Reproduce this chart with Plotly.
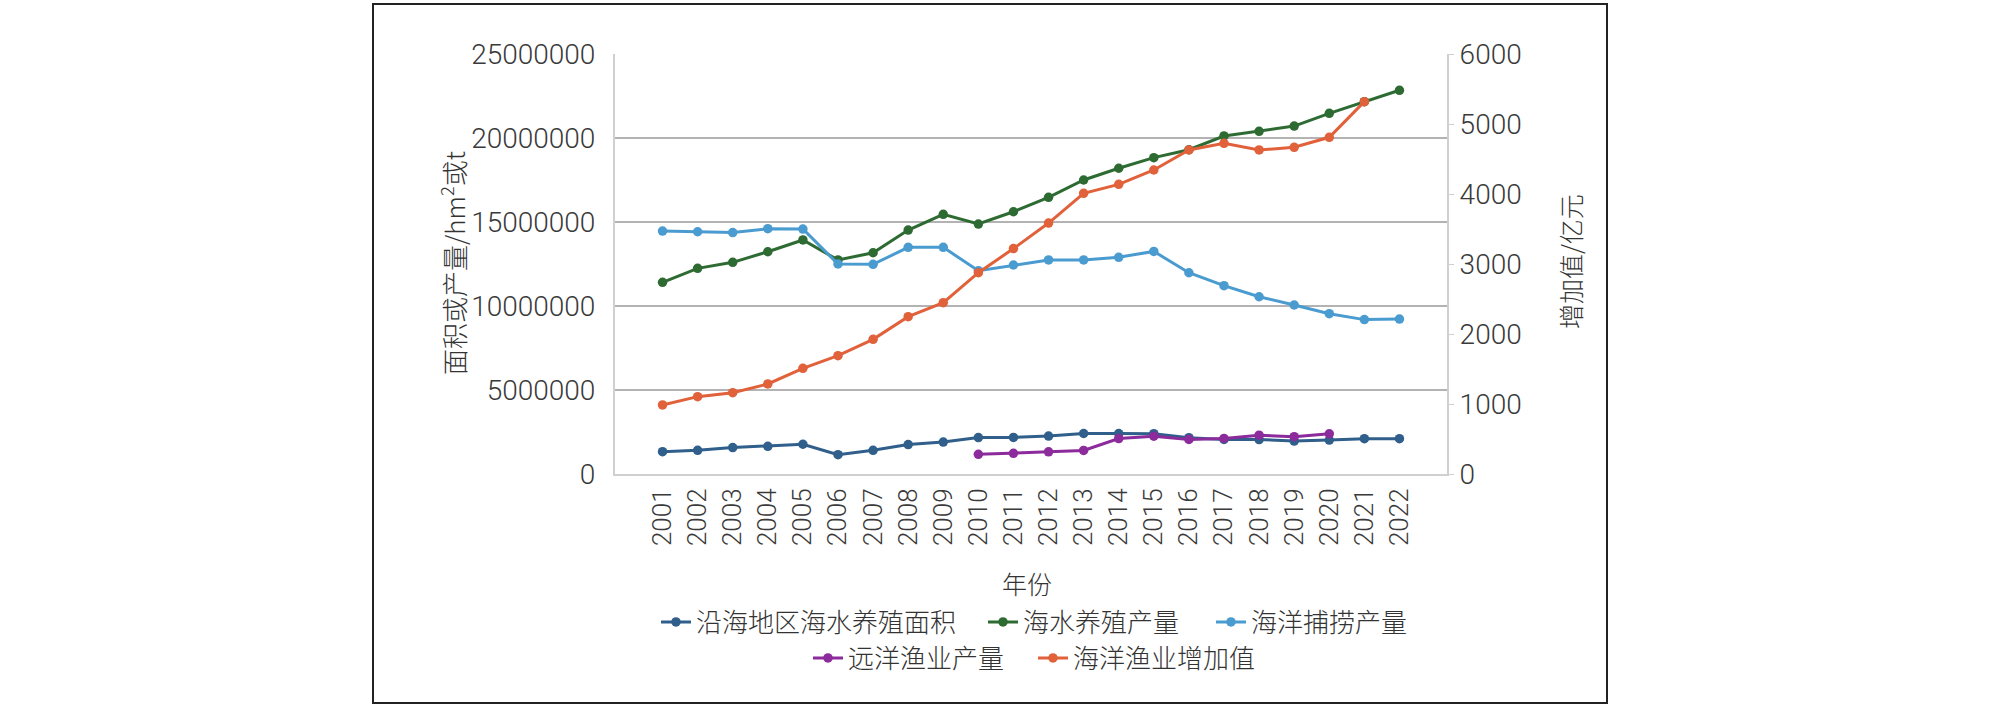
import plotly.graph_objects as go

years = ["2001", "2002", "2003", "2004", "2005", "2006", "2007", "2008", "2009", "2010", "2011",
         "2012", "2013", "2014", "2015", "2016", "2017", "2018", "2019", "2020", "2021", "2022"]

# 沿海地区海水养殖面积 (hm2)
area = [1330000, 1410000, 1570000, 1650000, 1770000, 1150000, 1410000, 1750000, 1900000, 2170000, 2180000,
        2260000, 2410000, 2410000, 2400000, 2160000, 2060000, 2050000, 1960000, 2020000, 2100000, 2100000]
# 海水养殖产量 (t)
mariculture = [11410000, 12240000, 12600000, 13230000, 13930000, 12740000, 13170000, 14520000, 15460000,
               14880000, 15610000, 16470000, 17500000, 18200000, 18830000, 19300000, 20120000, 20400000,
               20710000, 21470000, 22160000, 22840000]
# 海洋捕捞产量 (t)
capture = [14460000, 14420000, 14370000, 14600000, 14580000, 12500000, 12480000, 13490000, 13490000,
           12100000, 12440000, 12740000, 12740000, 12900000, 13250000, 11980000, 11210000, 10550000,
           10060000, 9540000, 9190000, 9220000]
# 远洋渔业产量 (t)
distant = [None, None, None, None, None, None, None, None, None,
           1170000, 1230000, 1320000, 1400000, 2110000, 2250000, 2060000, 2120000, 2310000, 2220000,
           2390000, None, None]
# 海洋渔业增加值 (亿元)
added_value = [986, 1105, 1162, 1286, 1510, 1690, 1924, 2248, 2448, 2876, 3220,
               3585, 4010, 4138, 4343, 4629, 4724, 4629, 4667, 4810, 5319, None]

names = ["沿海地区海水养殖面积", "海水养殖产量", "海洋捕捞产量", "远洋渔业产量", "海洋渔业增加值"]
colors = ["#2F5F8A", "#2E6B33", "#4A9BD0", "#8C2B9B", "#E0613A"]

series = [area, mariculture, capture, distant, added_value]
axes = ["y", "y", "y", "y", "y2"]
legends = ["legend", "legend2", "legend3", "legend4", "legend5"]

fig = go.Figure()
for name, vals, col, ax, lg in zip(names, series, colors, axes, legends):
    fig.add_trace(go.Scatter(
        x=years, y=vals, name=name, mode="lines+markers", yaxis=ax, legend=lg,
        line=dict(color=col, width=3), marker=dict(color=col, size=9.5),
        connectgaps=False,
    ))

font_cjk = "Noto Sans CJK SC, Liberation Sans, sans-serif"
font_num = "Roboto, Liberation Sans, Noto Sans CJK SC, sans-serif"
tick_col = "#3a3a3a"

# plot area in page pixels
PL, PR, PT, PB = 615, 1447, 54, 474
W, H = 2008, 709


def px(xp):
    return (xp - PL) / (PR - PL)


def py(yp):
    return (PB - yp) / (PB - PT)


leg_font = dict(family=font_cjk, size=26, color="#333333", weight=300)
leg_pos = {
    "legend": (656, 622), "legend2": (983, 622), "legend3": (1211, 622),
    "legend4": (808, 658), "legend5": (1033, 658),
}
leg_layout = {}
for k, (lx, ly) in leg_pos.items():
    leg_layout[k] = dict(orientation="h", x=px(lx), xanchor="left", y=py(ly), yanchor="middle",
                         font=leg_font, bgcolor="rgba(0,0,0,0)", borderwidth=0)

fig.update_layout(
    width=W, height=H, autosize=False,
    margin=dict(l=PL, r=W - PR, t=PT, b=H - PB, pad=0),
    paper_bgcolor="white", plot_bgcolor="white",
    font=dict(family=font_cjk, color="#333333"),
    xaxis=dict(type="category", showline=True, linecolor="#D0D0D0", linewidth=2,
               showgrid=False, ticks="", tickangle=-90,
               tickfont=dict(family=font_num, size=26, color=tick_col, weight=300),
               ticklabelstandoff=2),
    yaxis=dict(range=[0, 25000000], dtick=5000000, tickformat="d",
               showgrid=True, gridcolor="#B3B3B3", gridwidth=2, zeroline=False,
               showline=True, linecolor="#D0D0D0", linewidth=2, ticks="",
               tickfont=dict(family=font_num, size=28, color=tick_col, weight=300),
               ticklabelstandoff=12),
    yaxis2=dict(range=[0, 6000], dtick=1000, overlaying="y", side="right",
                showgrid=False, zeroline=False, showline=True, linecolor="#D0D0D0", linewidth=2,
                ticks="outside", ticklen=5, tickcolor="#D0D0D0", tickwidth=1,
                tickfont=dict(family=font_num, size=28, color=tick_col, weight=300)),
    showlegend=True,
    **leg_layout,
)

fig.add_annotation(text="年份", xref="paper", yref="paper", x=px(1027), y=py(583),
                   showarrow=False, font=dict(family=font_cjk, size=25, color="#333333", weight=300),
                   xanchor="center", yanchor="middle")
fig.add_annotation(text="面积或产量/hm<sup>2</sup>或t", xref="paper", yref="paper", x=px(452), y=py(263),
                   showarrow=False, textangle=-90,
                   font=dict(family=font_cjk, size=26, color="#333333", weight=300),
                   xanchor="center", yanchor="middle")
fig.add_annotation(text="增加值/亿元", xref="paper", yref="paper", x=px(1570), y=py(262),
                   showarrow=False, textangle=-90,
                   font=dict(family=font_cjk, size=25, color="#333333", weight=300),
                   xanchor="center", yanchor="middle")

fig.add_shape(type="rect", xref="paper", yref="paper", x0=px(373), x1=px(1607), y0=py(703), y1=py(4),
              line=dict(color="#222222", width=2), fillcolor="rgba(0,0,0,0)", layer="above")

fig.write_html("out.html", config={"displayModeBar": False},
               post_script="document.body.style.margin='0px';document.body.style.overflow='hidden';")
